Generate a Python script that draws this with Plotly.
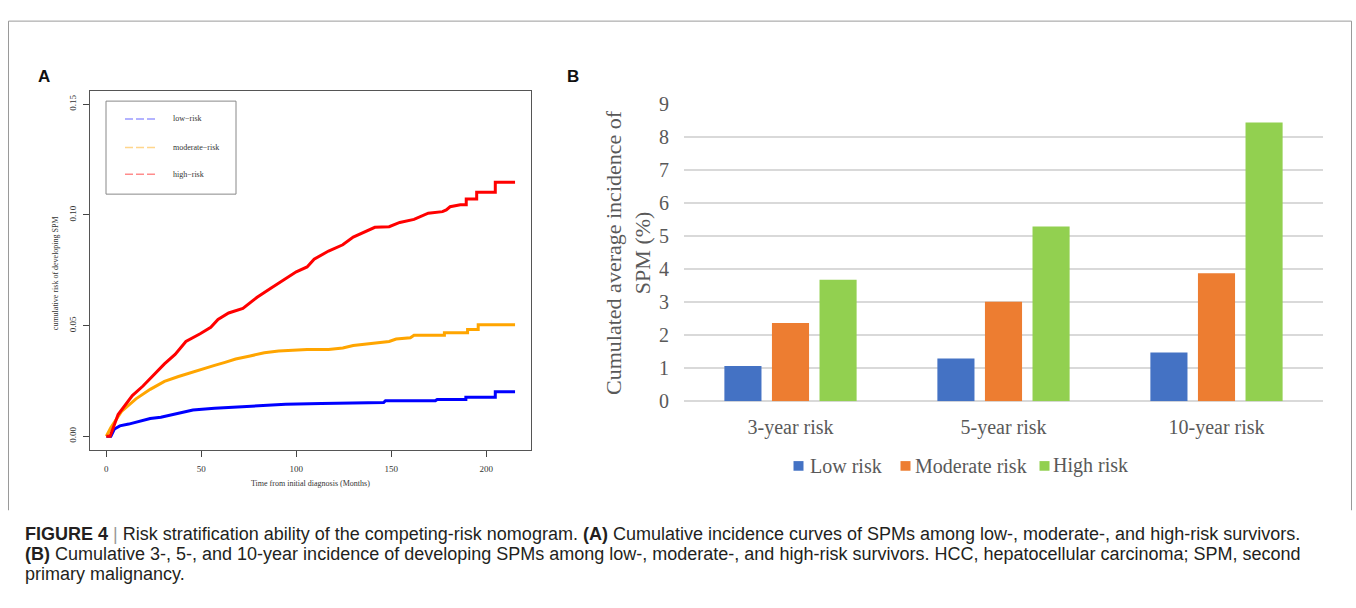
import plotly.graph_objects as go

W = 1356
H = 608

def px(x):
    return x / W

def py(y):
    return 1 - y / H

# ---------------- Panel A data (cumulative incidence) ----------------
low_t = [0, 2.4, 4.3, 7.1, 11.8, 17.5, 23.1, 28.7, 34.4, 40, 45.6, 57, 70, 81.3, 94.4,
         113.2, 132, 146, 147, 173.3, 174.2, 189.3, 189.3, 204.8, 204.8, 215.2]
low_v = [0, 0, 0.0033, 0.0047, 0.0055, 0.0069, 0.0080, 0.0086, 0.0098, 0.0109, 0.0119,
         0.0126, 0.0133, 0.0141, 0.0145, 0.0148, 0.0151, 0.0152, 0.0161, 0.0161, 0.0166,
         0.0166, 0.0176, 0.0176, 0.0201, 0.0201]

mod_t = [0, 2.4, 8, 15.6, 23.1, 30.6, 38, 45.6, 51.3, 57, 62.5, 68.1, 75.7, 83.2, 90.7,
         100, 105.7, 117, 124.5, 130, 137.6, 143.2, 148.9, 152.6, 160.1, 162, 178, 178,
         190.2, 190.2, 195.8, 195.8, 215.2]
mod_v = [0, 0.0040, 0.0112, 0.0169, 0.0212, 0.0248, 0.0270, 0.0291, 0.0306, 0.0320,
         0.0334, 0.0349, 0.0363, 0.0377, 0.0385, 0.0388, 0.0392, 0.0392, 0.0399, 0.0410,
         0.0418, 0.0423, 0.0428, 0.0439, 0.0445, 0.0456, 0.0456, 0.0468, 0.0468, 0.0482,
         0.0482, 0.0504, 0.0504]

high_t = [0, 2, 6.2, 13.7, 19.3, 25, 30.6, 36.2, 41.9, 49.4, 55, 58.8, 64.4, 71.9, 79.4,
          87, 94.4, 100, 105.7, 109.4, 117, 124.5, 130, 135.7, 141.4, 148.9, 154.5, 162,
          169.5, 177, 179, 181, 186.4, 189.5, 189.5, 195, 195, 204.8, 204.8, 215.2]
high_v = [0, 0, 0.0098, 0.0184, 0.0227, 0.0277, 0.0327, 0.0370, 0.0428, 0.0463, 0.0492,
          0.0528, 0.0557, 0.0578, 0.0628, 0.0671, 0.0714, 0.0743, 0.0765, 0.0800, 0.0837,
          0.0865, 0.0900, 0.0923, 0.0944, 0.0947, 0.0966, 0.0980, 0.1008, 0.1015, 0.1023,
          0.1037, 0.1046, 0.1046, 0.1072, 0.1072, 0.1102, 0.1102, 0.1148, 0.1148]

a_xticks = [0, 50, 100, 150, 200]
a_yticks = [0, 0.05, 0.10, 0.15]
a_yticktext = ["0.00", "0.05", "0.10", "0.15"]
a_legend_labels = ["low\u2212risk", "moderate\u2212risk", "high\u2212risk"]

# ---------------- Panel B data ----------------
categories = ["3-year risk", "5-year risk", "10-year risk"]
series_names = ["Low risk", "Moderate risk", "High risk"]
low_risk = [1.07, 1.30, 1.48]
moderate_risk = [2.37, 3.02, 3.88]
high_risk = [3.68, 5.30, 8.45]
b_yticks = list(range(0, 10))

SERIF = "Liberation Serif, Times New Roman, serif"
SANS = "Liberation Sans, Arial, sans-serif"
B_COLORS = ["#4472C4", "#ED7D31", "#92D050"]

fig = go.Figure()

# Panel A curves
for t, v, col in [(low_t, low_v, "#0000FF"), (mod_t, mod_v, "#FFA500"), (high_t, high_v, "#FF0000")]:
    fig.add_trace(go.Scatter(x=t, y=v, mode="lines", line=dict(color=col, width=3),
                             xaxis="x", yaxis="y", showlegend=False, hoverinfo="skip"))

# Panel B bars
for name, vals, col in zip(series_names, [low_risk, moderate_risk, high_risk], B_COLORS):
    fig.add_trace(go.Bar(x=categories, y=vals, name=name, marker=dict(color=col, line=dict(width=0)),
                         xaxis="x2", yaxis="y2", showlegend=False))

fig.update_layout(
    width=W, height=H,
    margin=dict(l=0, r=0, t=0, b=0),
    paper_bgcolor="white", plot_bgcolor="white",
    barmode="group", bargap=0.33, bargroupgap=0.22,
    xaxis=dict(domain=[px(90), px(531)], range=[-8.6, 223.6], anchor="y",
               tickvals=a_xticks, ticks="outside", ticklen=6, tickcolor="#444",
               showline=True, mirror=True, linecolor="#555", linewidth=1,
               showgrid=False, zeroline=False,
               tickfont=dict(family=SERIF, size=9, color="#333"), ticklabelstandoff=5),
    yaxis=dict(domain=[py(455), py(83)], range=[-0.006, 0.156], anchor="x",
               tickvals=a_yticks, ticktext=a_yticktext, tickangle=-90,
               ticks="outside", ticklen=6, tickcolor="#444",
               showline=True, mirror=True, linecolor="#555", linewidth=1,
               showgrid=False, zeroline=False,
               tickfont=dict(family=SERIF, size=9, color="#333"), ticklabelstandoff=3),
    xaxis2=dict(domain=[px(684), px(1323)], anchor="y2", type="category",
                showline=False, ticks="", showgrid=False,
                tickfont=dict(family=SERIF, size=20, color="#595959"), ticklabelstandoff=12),
    yaxis2=dict(domain=[py(405), py(96.7)], anchor="x2", range=[0, 9.001],
                tickvals=b_yticks, showgrid=True, gridcolor="#D9D9D9", gridwidth=1.5,
                zeroline=True, zerolinecolor="#D9D9D9", zerolinewidth=1.5,
                showline=False, ticks="",
                tickfont=dict(family=SERIF, size=20, color="#595959"), ticklabelstandoff=14),
)

shapes = []
# outer figure frame (open at bottom)
frame_col = "#9A9A9A"
shapes.append(dict(type="line", xref="paper", yref="paper", x0=px(8.5), x1=px(8.5), y0=py(10.5), y1=py(518),
                   line=dict(color=frame_col, width=1)))
shapes.append(dict(type="line", xref="paper", yref="paper", x0=px(8.5), x1=px(1351.5), y0=py(10.5), y1=py(10.5),
                   line=dict(color=frame_col, width=1)))
shapes.append(dict(type="line", xref="paper", yref="paper", x0=px(1351.5), x1=px(1351.5), y0=py(10.5), y1=py(518),
                   line=dict(color=frame_col, width=1)))
# panel A legend box
shapes.append(dict(type="rect", xref="paper", yref="paper", x0=px(106), x1=px(236), y0=py(190), y1=py(93.5),
                   line=dict(color="#888", width=1), fillcolor="rgba(0,0,0,0)"))
leg_cols = ["rgba(0,0,255,0.4)", "rgba(255,165,0,0.45)", "rgba(255,0,0,0.45)"]
leg_y = [112, 141.5, 169.5]
for col, yy in zip(leg_cols, leg_y):
    shapes.append(dict(type="line", xref="paper", yref="paper", x0=px(125), x1=px(155), y0=py(yy), y1=py(yy),
                       line=dict(color=col, width=1.5, dash="8px,3px")))
# panel B legend swatches
b_leg_sq_x = [798.5, 905.5, 1044.5]
b_leg_txt_x = [808, 913, 1051]
b_leg_y = 472
for col, cx in zip(B_COLORS, b_leg_sq_x):
    shapes.append(dict(type="rect", xref="paper", yref="paper", x0=px(cx - 5), x1=px(cx + 5),
                       y0=py(b_leg_y + 5), y1=py(b_leg_y - 5), line=dict(width=0), fillcolor=col))
fig.update_layout(shapes=shapes)

ann = []
for lab, yy in zip(a_legend_labels, leg_y):
    ann.append(dict(text=lab, x=px(170.5), y=py(yy), xref="paper", yref="paper", xanchor="left",
                    yanchor="middle", showarrow=False, font=dict(family=SERIF, size=8, color="#333")))
for lab, tx in zip(series_names, b_leg_txt_x):
    ann.append(dict(text=lab, x=px(tx), y=py(b_leg_y), xref="paper", yref="paper", xanchor="left",
                    yanchor="middle", showarrow=False, font=dict(family=SERIF, size=20, color="#595959")))
ann.append(dict(text="cumulative risk of developing SPM", x=px(55), y=py(272), xref="paper", yref="paper",
                textangle=-90, showarrow=False, xanchor="center", yanchor="middle",
                font=dict(family=SERIF, size=8, color="#333")))
ann.append(dict(text="Time from initial diagnosis (Months)", x=px(310), y=py(490), xref="paper", yref="paper",
                showarrow=False, xanchor="center", yanchor="middle",
                font=dict(family=SERIF, size=8, color="#333")))
ann.append(dict(text="Cumulated average incidence of<br>SPM (%)", x=px(628), y=py(251), xref="paper",
                yref="paper", textangle=-90, showarrow=False, xanchor="center", yanchor="middle",
                font=dict(family=SERIF, size=22, color="#595959")))
ann.append(dict(text="<b>A</b>", x=px(44), y=py(68), xref="paper", yref="paper", showarrow=False,
                xanchor="center", yanchor="middle", font=dict(family=SANS, size=17, color="#111")))
ann.append(dict(text="<b>B</b>", x=px(573), y=py(68), xref="paper", yref="paper", showarrow=False,
                xanchor="center", yanchor="middle", font=dict(family=SANS, size=17, color="#111")))

cap_font = dict(family=SANS, size=18, color="#231F20")
cap_lines = [
    "<b>FIGURE 4</b> <span style='color:#999'>|</span> Risk stratification ability of the competing-risk nomogram. "
    "<b>(A)</b> Cumulative incidence curves of SPMs among low-, moderate-, and high-risk survivors.",
    "<b>(B)</b> Cumulative 3-, 5-, and 10-year incidence of developing SPMs among low-, moderate-, and high-risk "
    "survivors. HCC, hepatocellular carcinoma; SPM, second",
    "primary malignancy.",
]
for line, yy in zip(cap_lines, [543, 563.5, 584]):
    ann.append(dict(text=line, x=px(23), y=py(yy), xref="paper", yref="paper", showarrow=False,
                    xanchor="left", yanchor="middle", font=cap_font))
fig.update_layout(annotations=ann)

fig.write_html("out.html")
